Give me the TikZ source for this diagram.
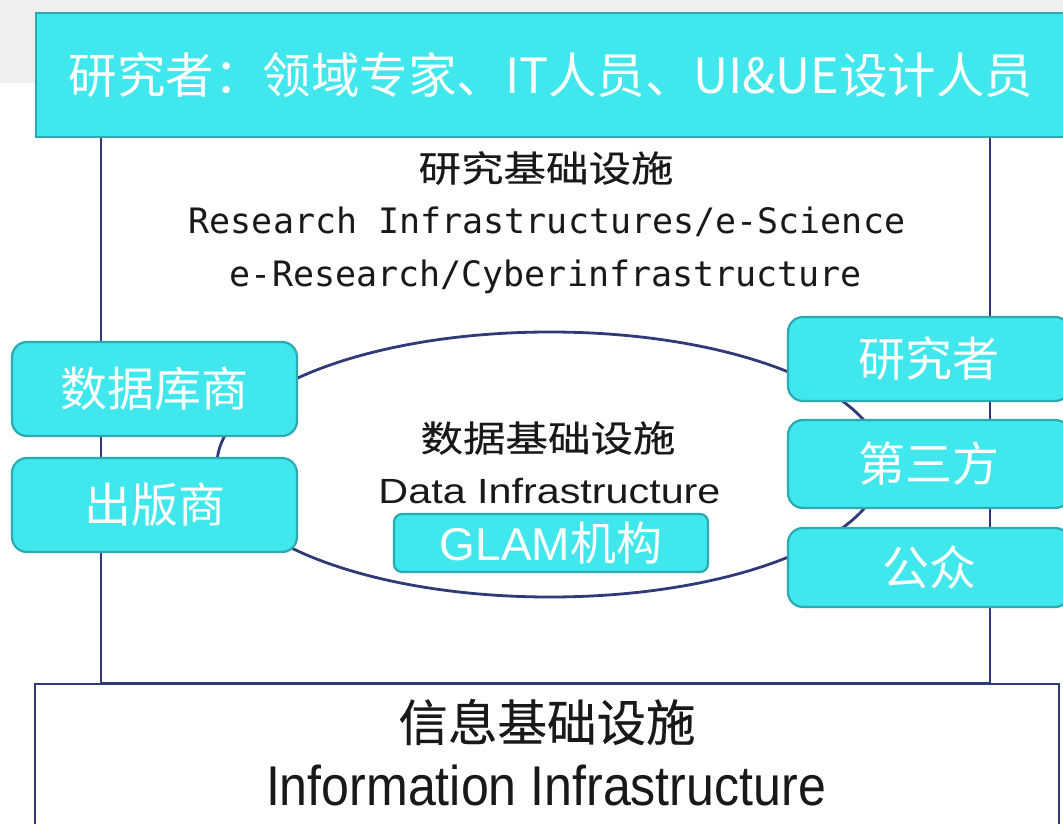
\documentclass[tikz,border=0pt]{standalone}
\usepackage{fontspec}
\setmainfont{Liberation Sans}
\newfontfamily\cjk{Noto Sans CJK SC}
\newfontfamily\cjkwide[FakeStretch=1.18,FakeBold=0.3]{Noto Sans CJK SC}
\newfontfamily\cjkhead[FakeBold=0.3]{Noto Sans CJK SC}
\newfontfamily\latwide[FakeStretch=1.18]{Liberation Sans}
\newfontfamily\latnarrow[FakeStretch=0.895]{Liberation Sans}
\newfontfamily\monof{DejaVu Sans Mono}
\usetikzlibrary{shapes.geometric}
\definecolor{cyanfill}{RGB}{64,231,236}
\definecolor{cyanedge}{RGB}{43,170,178}
\definecolor{navy}{RGB}{48,58,120}
\definecolor{bandgray}{RGB}{239,239,239}
\definecolor{inkblack}{RGB}{25,25,25}
\newcommand{\fsz}[1]{\fontsize{#1}{#1}\selectfont}
\begin{document}
\begin{tikzpicture}[x=1pt,y=-1pt,
  cbox/.style={draw=cyanedge, fill=cyanfill, line width=2.2pt, rounded corners=15pt,
    inner sep=0pt, text=white, font=\cjk\fsz{47}},
  frameline/.style={draw=navy, line width=2.2pt},
  txt/.style={inner sep=0pt, text=inkblack}]
\useasboundingbox (0,0) rectangle (1063,824);
\clip (0,0) rectangle (1063,824);
\fill[white] (0,0) rectangle (1063,824);
\fill[bandgray] (0,0) rectangle (1063,83);
% research infrastructure frame
\draw[frameline] (101,136) rectangle (990,683);
% top title box
\node[draw=cyanedge, fill=cyanfill, line width=2pt, minimum width=1033, minimum height=124,
  inner sep=0pt, anchor=north west] (topbox) at (35,12) {};
\node[inner sep=0pt, text=white, font=\cjk\fsz{48.5}] (toptext) at (551,75)
  {研究者：领域专家、IT人员、UI\&UE设计人员};
% bottom information box
\node[draw=navy, fill=white, line width=2.2pt, minimum width=1024, minimum height=160,
  inner sep=0pt, anchor=north west] (infobox) at (34,683) {};
\node[txt, font=\cjkhead\fsz{49.5}] (infocn) at (547,722) {信息基础设施};
\node[txt, font=\latnarrow\fsz{56}, anchor=base] (infoen) at (546,805) {Information Infrastructure};
% research infrastructure texts
\node[txt, font=\cjkwide\fsz{36}] (rescn) at (546,168) {研究基础设施};
\node[txt, font=\monof\fsz{35}, anchor=base] (resen1) at (547,233) {Research Infrastructures/e-Science};
\node[txt, font=\monof\fsz{35}, anchor=base] (resen2) at (546,286) {e-Research/Cyberinfrastructure};
% data infrastructure ellipse
\node[ellipse, draw=navy, line width=2.8pt, minimum width=666, minimum height=265, inner sep=0pt]
  (dataell) at (550,464.5) {};
\node[txt, font=\cjkwide\fsz{36}] (datacn) at (548,438) {数据基础设施};
\node[txt, font=\latwide\fsz{35}, anchor=base] (dataen) at (549.5,503) {Data Infrastructure};
\node[cbox, rounded corners=8pt, minimum width=314, minimum height=58, font=\fsz{46}]
  (glam) at (551,543) {GLAM{\cjk 机构}};
% left boxes
\node[cbox, minimum width=285, minimum height=94] (dbv) at (154.5,389) {数据库商};
\node[cbox, minimum width=285, minimum height=94] (pub) at (154.5,505) {出版商};
% right boxes
\node[cbox, minimum width=282, minimum height=84] (res) at (929,359) {研究者};
\node[cbox, minimum width=282, minimum height=88] (third) at (929,464) {第三方};
\node[cbox, minimum width=282, minimum height=79] (public) at (929,567.5) {公众};
\end{tikzpicture}
\end{document}
